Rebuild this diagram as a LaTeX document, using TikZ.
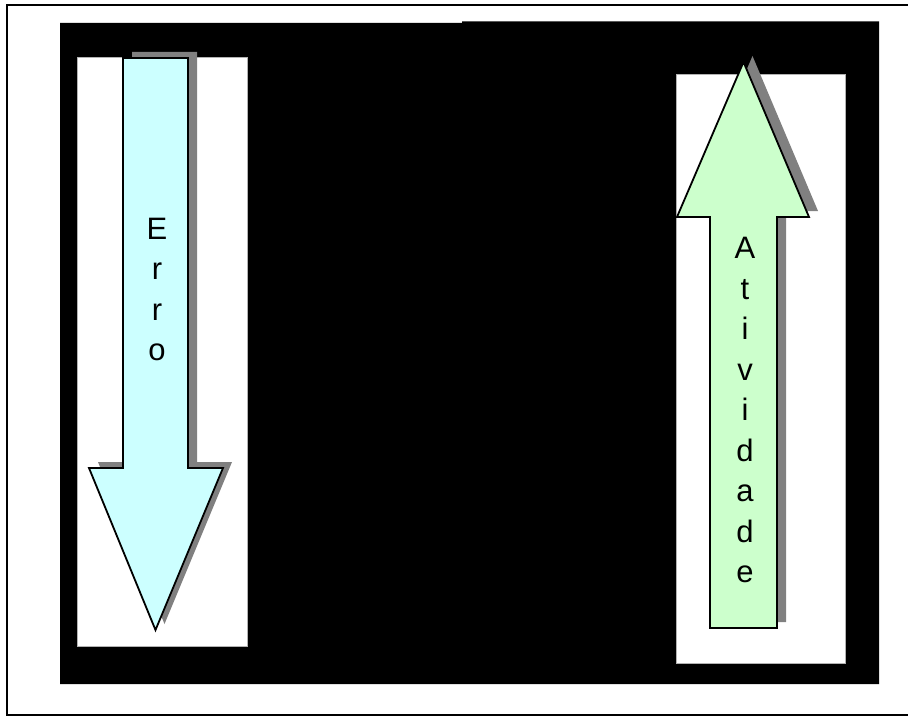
\documentclass[tikz,border=0pt]{standalone}
\usepackage{fontspec}
\setmainfont{Liberation Sans}
\definecolor{errocyan}{HTML}{CCFFFF}
\definecolor{ativgreen}{HTML}{CCFFCC}
\definecolor{shadowgray}{HTML}{808080}
\tikzset{
  arrowbody/.style={draw=black,line width=1.8pt,line join=miter},
  arrowshadow/.style={fill=shadowgray},
  letters/.style={inner sep=0,anchor=north,align=center,font=\fontsize{31pt}{40.5pt}\selectfont}
}

\begin{document}
\begin{tikzpicture}[x=1pt,y=-1pt]
    \pgfmathsetmacro{\shx}{9}
    \pgfmathsetmacro{\shy}{-6}
    \useasboundingbox (0,0) rectangle (908,717);
    \draw[line width=1.5pt] (7,5) rectangle (912,715);
    % black backdrop, with its small step on top
    \fill[black] (60,23) -- (462,23) -- (462,21.5) -- (879,21.5) -- (879,684) -- (60,684) -- cycle;
    \fill[white,draw=gray!60,line width=0.4pt] (77,57) rectangle (247,646);
    \fill[white,draw=gray!60,line width=0.4pt] (676,74) rectangle (845,663);
    % Erro arrow, pointing down
    \fill[arrowshadow,shift={(\shx,\shy)}] (123,58) -- (188,58) -- (188,468) -- (223,468) -- (155.5,630) -- (89,468) -- (123,468) -- cycle;
    \filldraw[arrowbody,fill=errocyan] (123,58) -- (188,58) -- (188,468) -- (223,468) -- (155.5,630) -- (89,468) -- (123,468) -- cycle;
    % Atividade arrow, pointing up
    \fill[arrowshadow,shift={(\shx,\shy)}] (710,628) -- (777,628) -- (777,217) -- (809,217) -- (743.5,62) -- (677,217) -- (710,217) -- cycle;
    \filldraw[arrowbody,fill=ativgreen] (710,628) -- (777,628) -- (777,217) -- (809,217) -- (743.5,62) -- (677,217) -- (710,217) -- cycle;
    \node[letters](erro) at (157,217.5){E\\r\\r\\o};
    \node[letters](atividade) at (745,237){A\\t\\i\\v\\i\\d\\a\\d\\e};
\end{tikzpicture}
\end{document}
